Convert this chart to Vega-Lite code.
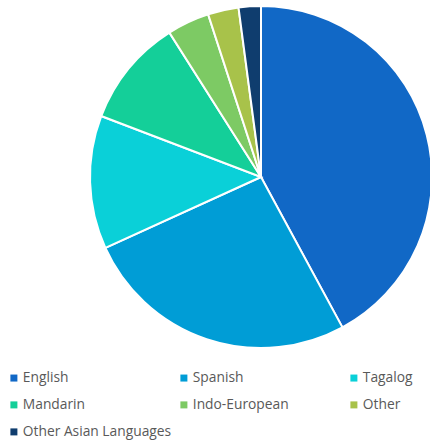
{
  "$schema": "https://vega.github.io/schema/vega-lite/v6.json",
  "width": 338,
  "height": 354,
  "autosize": "none",
  "padding": {"left": 92, "top": 0, "right": 0, "bottom": 89},
  "background": "white",
  "data": {
    "values": [
      {"language": "English", "share": 42.1, "order": 1},
      {"language": "Spanish", "share": 26.1, "order": 2},
      {"language": "Tagalog", "share": 12.6, "order": 3},
      {"language": "Mandarin", "share": 10.2, "order": 4},
      {"language": "Indo-European", "share": 4.0, "order": 5},
      {"language": "Other", "share": 2.9, "order": 6},
      {"language": "Other Asian Languages", "share": 2.1, "order": 7}
    ]
  },
  "mark": {"type": "arc", "outerRadius": 171, "stroke": "white", "strokeWidth": 2},
  "encoding": {
    "theta": {"field": "share", "type": "quantitative", "stack": true},
    "order": {"field": "order", "type": "quantitative"},
    "color": {
      "field": "language",
      "type": "nominal",
      "scale": {
        "domain": ["English", "Spanish", "Tagalog", "Mandarin", "Indo-European", "Other", "Other Asian Languages"],
        "range": ["#1168c6", "#009dd6", "#0ad0d8", "#14cf99", "#7dca64", "#a8c24a", "#0f3d6e"]
      },
      "legend": {
        "title": null,
        "orient": "none",
        "legendX": -85,
        "legendY": 371,
        "direction": "horizontal",
        "columns": 3,
        "gridAlign": "all",
        "columnPadding": 5,
        "rowPadding": 12,
        "symbolType": "square",
        "symbolSize": 49,
        "symbolStrokeWidth": 0,
        "labelOffset": 2,
        "labelFont": "Open Sans",
        "labelFontSize": 13.8,
        "labelColor": "#595959",
        "labelLimit": 300
      }
    }
  },
  "config": {"view": {"stroke": null}}
}
